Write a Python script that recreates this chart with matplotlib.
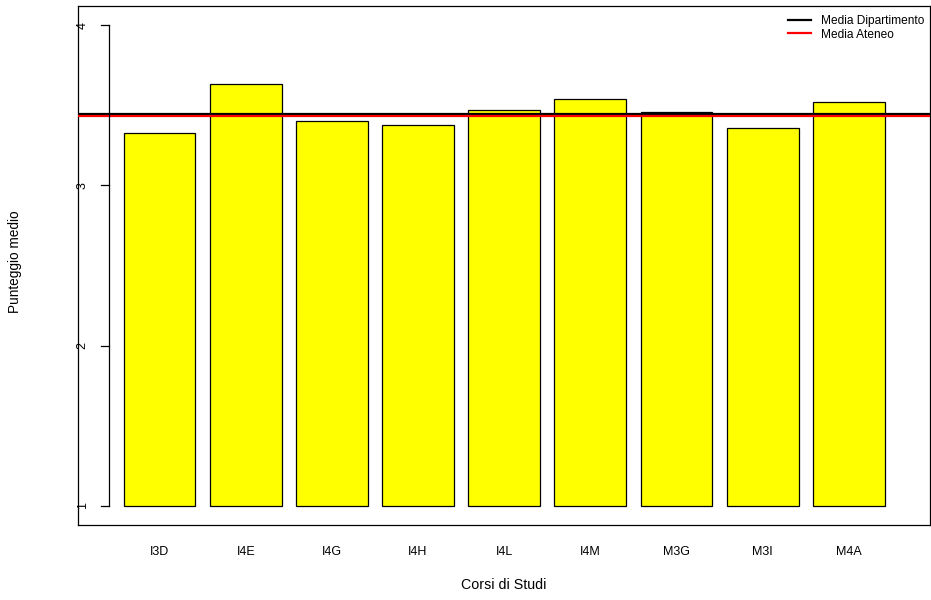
# Punteggio medio per corso di studi (barplot stile R)

import matplotlib
matplotlib.use("Agg")
import matplotlib.pyplot as plt
import numpy as np

plt.rcParams['font.family'] = ['Liberation Sans', 'DejaVu Sans']

corsi = ["I3D", "I4E", "I4G", "I4H", "I4L", "I4M", "M3G", "M3I", "M4A"]
punteggi = [3.33, 3.63, 3.40, 3.38, 3.47, 3.54, 3.46, 3.36, 3.52]
media_dipartimento = 3.444
media_ateneo = 3.431
y_ticks = [1, 2, 3, 4]

W, H = 931, 600
fig = plt.figure(figsize=(W / 100, H / 100), dpi=100)

# axes box in pixels (left, top, right, bottom)
left, top, right, bottom = 77.7, 6.0, 930.0, 525.0
ax = fig.add_axes([left / W, 1 - bottom / H, (right - left) / W, (bottom - top) / H])

# R barplot geometry: width 1, space 0.2
x_left = 0.2 + 1.2 * np.arange(len(corsi))
centres = x_left + 0.5
base = 1.0
ax.bar(centres, np.array(punteggi) - base, bottom=base, width=1.0,
       color="yellow", edgecolor="black", linewidth=0.9, zorder=2)

h_dip = ax.axhline(media_dipartimento, color="black", linewidth=1.6, zorder=3,
                   label="Media Dipartimento")
h_ate = ax.axhline(media_ateneo, color="red", linewidth=1.6, zorder=3,
                   label="Media Ateneo")

ax.set_xlim(-0.44, 11.43)
ax.set_ylim(0.88, 4.12)

# R-like axis at x = 0
ax.set_xticks([])
ax.set_yticks([])
ax.plot([0, 0], [y_ticks[0], y_ticks[-1]], color="black", linewidth=0.9,
        clip_on=False, zorder=4)
tick_len = 0.12
for t in y_ticks:
    ax.plot([-tick_len, 0], [t, t], color="black", linewidth=0.9,
            clip_on=False, zorder=4)
    ax.text(-0.37, t, str(t), rotation=90, ha="center", va="center",
            fontsize=9)

for c, lab in zip(centres, corsi):
    ax.text(c, 0.88 - 27 / 160, lab, ha="center", va="center", fontsize=9)

for s in ax.spines.values():
    s.set_linewidth(0.9)

fig.text((left + right) / 2 / W, 1 - 585 / H, "Corsi di Studi",
         ha="center", va="center", fontsize=10.3)
fig.text(15 / W, 1 - 262 / H, "Punteggio medio", rotation=90,
         ha="center", va="center", fontsize=9.8)

# legend without frame
ax.legend(handles=[h_dip, h_ate], loc="upper right", frameon=False,
          fontsize=8.6, handlelength=1.9, handletextpad=0.8,
          labelspacing=0.14, borderpad=0, borderaxespad=0,
          bbox_to_anchor=(924 / W, 1 - 15 / H),
          bbox_transform=fig.transFigure)

fig.savefig("out.png", dpi=100)
